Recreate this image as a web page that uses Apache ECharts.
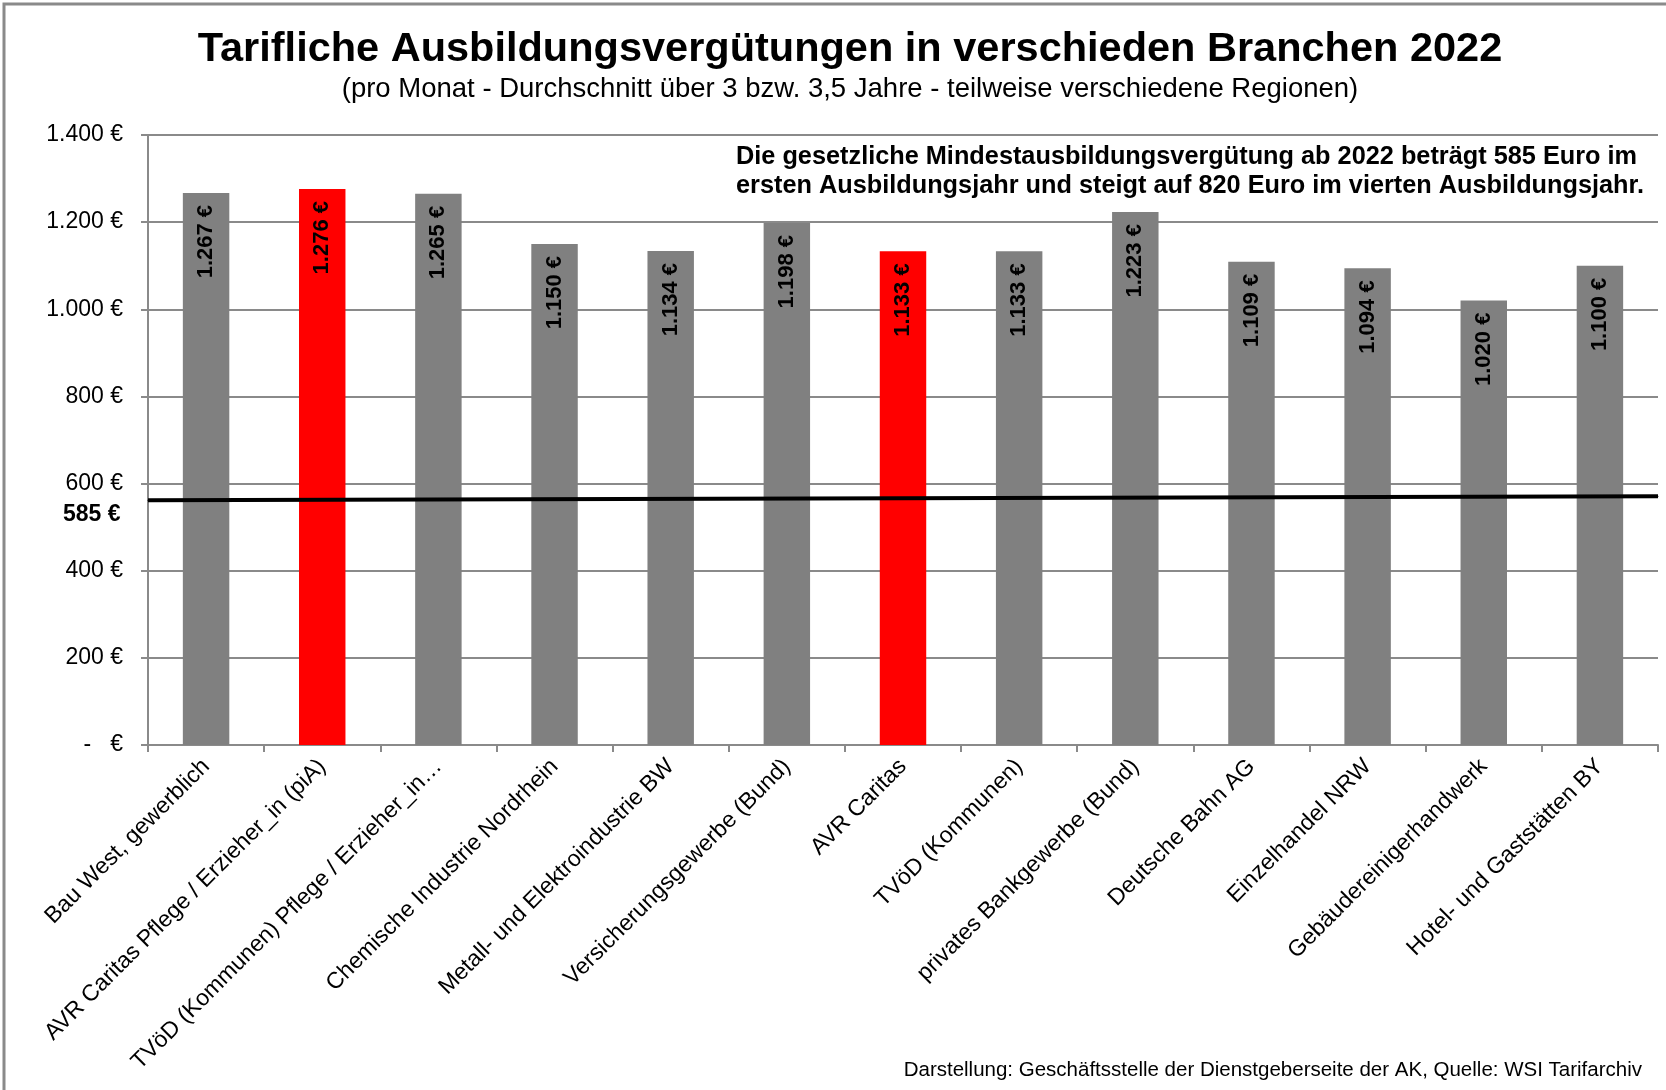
<!DOCTYPE html>
<html>
<head>
<meta charset="utf-8">
<script src="https://cdn.jsdelivr.net/npm/echarts@6/dist/echarts.min.js"></script>
<style>
html,body{margin:0;padding:0;background:#fff;}
#chart{width:1666px;height:1090px;}
</style>
</head>
<body>
<div id="chart"></div>
<script>
// ---- data ----
const categories = [
  "Bau West, gewerblich",
  "AVR Caritas Pflege / Erzieher_in (piA)",
  "TVöD (Kommunen) Pflege / Erzieher_in…",
  "Chemische Industrie Nordrhein",
  "Metall- und Elektroindustrie BW",
  "Versicherungsgewerbe (Bund)",
  "AVR Caritas",
  "TVöD (Kommunen)",
  "privates Bankgewerbe (Bund)",
  "Deutsche Bahn AG",
  "Einzelhandel NRW",
  "Gebäudereinigerhandwerk",
  "Hotel- und Gaststätten BY"
];
const values = [1267, 1276, 1265, 1150, 1134, 1198, 1133, 1133, 1223, 1109, 1094, 1020, 1100];
const highlightedIdx = [1, 6];
const yMin = 0, yMax = 1400, yStep = 200;
const minWageLine = [562, 571];     // drawn line position (left, right)
const minWageLabel = "585 €";
const titleText = "Tarifliche Ausbildungsvergütungen in verschieden Branchen 2022";
const subtitleText = "(pro Monat - Durchschnitt über 3 bzw. 3,5 Jahre - teilweise verschiedene Regionen)";
const noteText = "Die gesetzliche Mindestausbildungsvergütung ab 2022 beträgt 585 Euro im\nersten Ausbildungsjahr und steigt auf 820 Euro im vierten Ausbildungsjahr.";
const footerText = "Darstellung: Geschäftsstelle der Dienstgeberseite der AK, Quelle: WSI Tarifarchiv";

// ---- helpers ----
const FONT = "'Liberation Sans', Arial, sans-serif";
function fmtEuro(v) {
  if (v === 0) return "-   €";
  return String(v).replace(/\B(?=(\d{3})+(?!\d))/g, ".") + " €";
}
const GRID_COLOR = "#8a8a8a";

const chart = echarts.init(document.getElementById("chart"), null, {renderer: "canvas"});
chart.setOption({
  backgroundColor: "#fff",
  animation: false,
  textStyle: {fontFamily: FONT},
  title: [
    {text: titleText, left: 845, top: 24, textAlign: "center",
     textStyle: {fontFamily: FONT, fontSize: 41.5, fontWeight: "bold", color: "#000"}},
    {text: subtitleText, left: 845, top: 70, textAlign: "center",
     textStyle: {fontFamily: FONT, fontSize: 27.5, fontWeight: "normal", color: "#000"}},
    {text: noteText, left: 731, top: 138,
     textStyle: {fontFamily: FONT, fontSize: 25.3, fontWeight: "bold", color: "#000", lineHeight: 29}},
    {text: footerText, right: 19, top: 1055,
     textStyle: {fontFamily: FONT, fontSize: 20.5, fontWeight: "normal", color: "#000"}}
  ],
  graphic: [
    {type: "rect", shape: {x: 4, y: 4, width: 2000, height: 2000},
     style: {fill: "none", stroke: "#8a8a8a", lineWidth: 3}, silent: true, z: 100}
  ],
  grid: {left: 148, right: 8, top: 135, bottom: 345, containLabel: false},
  xAxis: [
    {
      type: "category",
      data: categories,
      axisLine: {show: true, lineStyle: {color: GRID_COLOR, width: 2}},
      axisTick: {show: true, alignWithLabel: false, length: 7, lineStyle: {color: GRID_COLOR, width: 2}},
      axisLabel: {interval: 0, rotate: 45, fontSize: 23, color: "#000", margin: 18, fontFamily: FONT},
      splitLine: {show: false}
    },
    {
      type: "value", min: 0, max: 1, show: false
    }
  ],
  yAxis: {
    type: "value",
    min: yMin, max: yMax, interval: yStep,
    axisLine: {show: true, lineStyle: {color: GRID_COLOR, width: 2}},
    axisTick: {show: true, length: 7, lineStyle: {color: GRID_COLOR, width: 2}},
    axisLabel: {fontSize: 23, color: "#000", margin: 25, fontFamily: FONT, formatter: fmtEuro},
    splitLine: {show: true, lineStyle: {color: GRID_COLOR, width: 2}}
  },
  series: [
    {
      type: "bar",
      data: values.map((v, i) => ({
        value: v,
        itemStyle: {color: highlightedIdx.includes(i) ? "#ff0000" : "#808080"}
      })),
      barWidth: "40%",
      label: {
        show: true,
        position: "insideTop",
        rotate: 90,
        align: "right",
        verticalAlign: "middle",
        distance: 12,
        fontSize: 22,
        fontWeight: "bold",
        color: "#000",
        fontFamily: FONT,
        formatter: p => fmtEuro(p.value)
      },
      z: 2
    },
    {
      type: "line",
      xAxisIndex: 1,
      data: [
        {value: [0, minWageLine[0]],
         label: {show: true, position: "left", distance: 27, offset: [0, 15],
                 formatter: minWageLabel, fontSize: 23, fontWeight: "bold", color: "#000", fontFamily: FONT}},
        {value: [1, minWageLine[1]]}
      ],
      symbol: "circle",
      symbolSize: 1,
      showSymbol: true,
      itemStyle: {color: "#000"},
      lineStyle: {color: "#000", width: 4},
      z: 5
    }
  ]
});
</script>
</body>
</html>
